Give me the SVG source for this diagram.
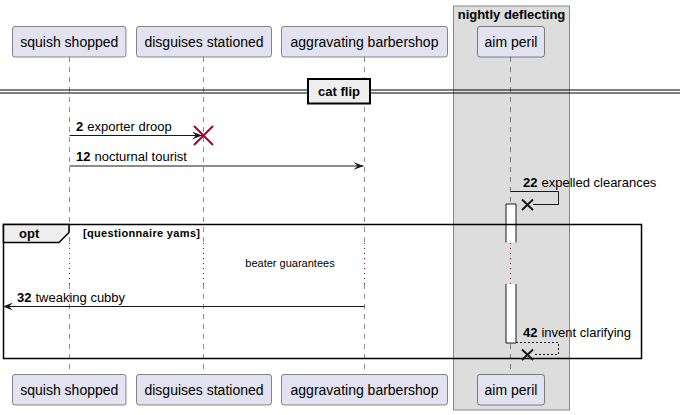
<svg xmlns="http://www.w3.org/2000/svg" width="684" height="415" viewBox="0 0 684 415">
<style>
text{font-family:"Liberation Sans",Arial,sans-serif;fill:#000}
.pbox{fill:#E2E2F0;stroke:#181818;stroke-width:0.5}
.pt{font-size:14px}
.life{stroke:#181818;stroke-width:0.5;stroke-dasharray:5,5;fill:none}
.delay{stroke:#A80036;stroke-width:1;stroke-dasharray:1,4;fill:none}
.msg{stroke:#181818;stroke-width:1;fill:none}
.dmsg{stroke:#181818;stroke-width:1;fill:none;stroke-dasharray:2,2}
.mt{font-size:13px}
.num{font-size:13px;font-weight:bold}
</style>
<defs>
<marker id="ah" markerWidth="12" markerHeight="10" refX="10" refY="4" orient="auto" markerUnits="userSpaceOnUse">
<polygon points="0,0 10,4 0,8 4,4" fill="#181818"/>
</marker>
</defs>

<g id="box-nightly-deflecting">
<rect x="453.5" y="6" width="116" height="404" fill="#DDDDDD" stroke="#888888" stroke-width="1"/>
<text x="511.5" y="19" text-anchor="middle" font-size="13" font-weight="bold">nightly deflecting</text>
</g>

<g id="lifelines">
<line class="life" x1="69.5" y1="57" x2="69.5" y2="242"/>
<line class="life" x1="69.5" y1="284" x2="69.5" y2="374"/>
<line class="delay" x1="69.5" y1="243" x2="69.5" y2="284"/>
<line class="life" x1="203.5" y1="57" x2="203.5" y2="242"/>
<line class="life" x1="203.5" y1="284" x2="203.5" y2="374"/>
<line class="delay" x1="203.5" y1="243" x2="203.5" y2="284"/>
<line class="life" x1="364.5" y1="57" x2="364.5" y2="242"/>
<line class="life" x1="364.5" y1="284" x2="364.5" y2="374"/>
<line class="delay" x1="364.5" y1="243" x2="364.5" y2="284"/>
<line class="life" x1="510.5" y1="57" x2="510.5" y2="242"/>
<line class="life" x1="510.5" y1="284" x2="510.5" y2="374"/>
<line class="delay" x1="510.5" y1="243" x2="510.5" y2="284"/>
</g>

<g id="divider-cat-flip">
<line x1="0" y1="90" x2="680" y2="90" stroke="#000" stroke-width="1"/>
<line x1="0" y1="93" x2="680" y2="93" stroke="#000" stroke-width="1"/>
<rect x="308" y="79" width="62" height="24.5" fill="#EEEEEE" stroke="#000" stroke-width="2"/>
<text x="339" y="96" text-anchor="middle" font-size="13" font-weight="bold">cat flip</text>
</g>

<g id="activation-aim-peril">
<rect x="506" y="204" width="10" height="38.5" fill="#FFFFFF" stroke="none"/>
<path d="M506,242.5 V204 H516 V242.5" fill="none" stroke="#181818" stroke-width="1"/>
<rect x="506" y="284" width="10" height="59" fill="#FFFFFF" stroke="none"/>
<path d="M506,284 V343 H516 V284" fill="none" stroke="#181818" stroke-width="1"/>
</g>

<g id="frame-opt">
<rect x="3.5" y="224.5" width="638" height="134" fill="none" stroke="#000" stroke-width="1.5"/>
<path d="M3.5,224.5 H69 V232.5 L59,242.5 H3.5 Z" fill="#EEEEEE" stroke="#000" stroke-width="1.5"/>
<text x="19" y="238" font-size="13" font-weight="bold">opt</text>
<text x="83" y="237" font-size="11" font-weight="bold" textLength="117" lengthAdjust="spacing">[questionnaire yams]</text>
</g>

<g id="delay-label">
<text x="290" y="267" text-anchor="middle" font-size="11">beater guarantees</text>
</g>

<g id="connectors">
<g id="msg-2">
<line class="msg" x1="69.5" y1="135.5" x2="202" y2="135.5" marker-end="url(#ah)"/>
<path d="M194,126 L213,145 M194,145 L213,126" stroke="#A80036" stroke-width="2" fill="none"/>
<text x="76" y="131"><tspan class="num">2</tspan><tspan class="mt" dx="4">exporter droop</tspan></text>
</g>
<g id="msg-12">
<line class="msg" x1="69.5" y1="166" x2="363.5" y2="166" marker-end="url(#ah)"/>
<text x="76" y="161"><tspan class="num">12</tspan><tspan class="mt" dx="4">nocturnal tourist</tspan></text>
</g>
<g id="msg-22">
<path class="msg" d="M510.5,191.5 H558.5 V204.5 H533"/>
<path d="M522,199.5 L533,210 M522,210 L533,199.5" stroke="#181818" stroke-width="2" fill="none"/>
<text x="523" y="187"><tspan class="num">22</tspan><tspan class="mt" dx="4">expelled clearances</tspan></text>
</g>
<g id="msg-32">
<line class="msg" x1="364.5" y1="306.5" x2="3" y2="306.5" marker-end="url(#ah)"/>
<text x="17" y="302"><tspan class="num">32</tspan><tspan class="mt" dx="4">tweaking cubby</tspan></text>
</g>
<g id="msg-42">
<path class="dmsg" d="M516,342.5 H558.5 V354.5 H533"/>
<path d="M522,349.5 L533,360 M522,360 L533,349.5" stroke="#181818" stroke-width="2" fill="none"/>
<text x="523" y="337"><tspan class="num">42</tspan><tspan class="mt" dx="4">invent clarifying</tspan></text>
</g>
</g>

<g id="p-squish-shopped">
<rect class="pbox" x="12.5" y="26.5" width="113.5" height="30.5" rx="2.5"/>
<text class="pt" x="69.3" y="47" text-anchor="middle">squish shopped</text>
<rect class="pbox" x="12.5" y="374.5" width="113.5" height="30.5" rx="2.5"/>
<text class="pt" x="69.3" y="395" text-anchor="middle">squish shopped</text>
</g>
<g id="p-disguises-stationed">
<rect class="pbox" x="136.5" y="26.5" width="135" height="30.5" rx="2.5"/>
<text class="pt" x="204" y="47" text-anchor="middle">disguises stationed</text>
<rect class="pbox" x="136.5" y="374.5" width="135" height="30.5" rx="2.5"/>
<text class="pt" x="204" y="395" text-anchor="middle">disguises stationed</text>
</g>
<g id="p-aggravating-barbershop">
<rect class="pbox" x="281.5" y="26.5" width="166" height="30.5" rx="2.5"/>
<text class="pt" x="364.5" y="47" text-anchor="middle">aggravating barbershop</text>
<rect class="pbox" x="281.5" y="374.5" width="166" height="30.5" rx="2.5"/>
<text class="pt" x="364.5" y="395" text-anchor="middle">aggravating barbershop</text>
</g>
<g id="p-aim-peril">
<rect class="pbox" x="477.5" y="26.5" width="67" height="30.5" rx="2.5"/>
<text class="pt" x="511" y="47" text-anchor="middle">aim peril</text>
<rect class="pbox" x="477.5" y="374.5" width="67" height="30.5" rx="2.5"/>
<text class="pt" x="511" y="395" text-anchor="middle">aim peril</text>
</g>
</svg>
